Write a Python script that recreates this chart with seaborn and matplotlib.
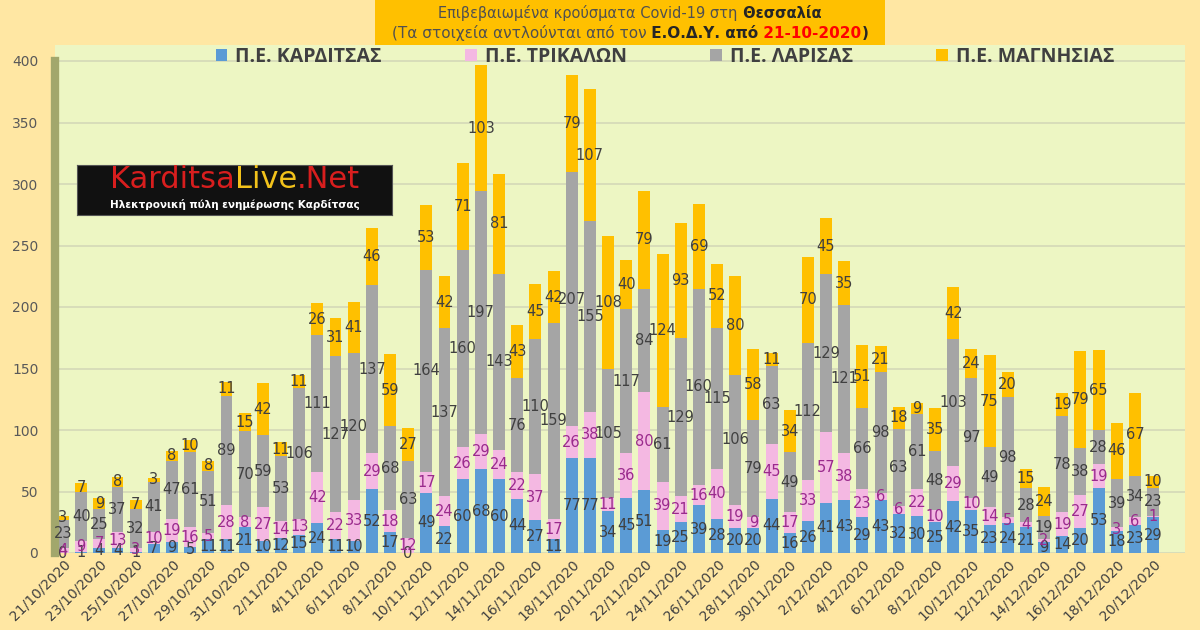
import numpy as np
import pandas as pd
import matplotlib
matplotlib.use("Agg")
import matplotlib.pyplot as plt
from matplotlib.patches import Patch, Rectangle
import seaborn as sns

# daily confirmed cases per regional unit, 21/10/2020 .. 20/12/2020
karditsa = [0, 1, 4, 4, 1, 7, 9, 5, 11, 11, 21, 10, 12, 15, 24, 11, 10, 52, 17, 0,
            49, 22, 60, 68, 60, 44, 27, 11, 77, 77, 34, 45, 51, 19, 25, 39, 28, 20, 20, 44,
            16, 26, 41, 43, 29, 43, 32, 30, 25, 42, 35, 23, 24, 21, 9, 14, 20, 53, 18, 23, 29]
trikala = [4, 9, 7, 13, 3, 10, 19, 16, 5, 28, 8, 27, 14, 13, 42, 22, 33, 29, 18, 12,
           17, 24, 26, 29, 24, 22, 37, 17, 26, 38, 11, 36, 80, 39, 21, 16, 40, 19, 9, 45,
           17, 33, 57, 38, 23, 6, 6, 22, 10, 29, 10, 14, 5, 4, 2, 19, 27, 19, 3, 6, 1]
larisa = [23, 40, 25, 37, 32, 41, 47, 61, 51, 89, 70, 59, 53, 106, 111, 127, 120, 137, 68, 63,
          164, 137, 160, 197, 143, 76, 110, 159, 207, 155, 105, 117, 84, 61, 129, 160, 115, 106, 79, 63,
          49, 112, 129, 121, 66, 98, 63, 61, 48, 103, 97, 49, 98, 28, 19, 78, 38, 28, 39, 34, 23]
magnisia = [3, 7, 9, 8, 7, 3, 8, 10, 8, 11, 15, 42, 11, 11, 26, 31, 41, 46, 59, 27,
            53, 42, 71, 103, 81, 43, 45, 42, 79, 107, 108, 40, 79, 124, 93, 69, 52, 80, 58, 11,
            34, 70, 45, 35, 51, 21, 18, 9, 35, 42, 24, 75, 20, 15, 24, 19, 79, 65, 46, 67, 10]

series_names = ["Π.Ε. ΚΑΡΔΙΤΣΑΣ", "Π.Ε. ΤΡΙΚΑΛΩΝ", "Π.Ε. ΛΑΡΙΣΑΣ", "Π.Ε. ΜΑΓΝΗΣΙΑΣ"]
colors = ["#5B9BD5", "#F4B8E2", "#A5A5A5", "#FFC000"]
label_colors = ["#404040", "#9A2A8C", "#404040", "#404040"]

dates = pd.date_range("2020-10-21", "2020-12-20")
date_labels = [f"{d.day}/{d.month}/{d.year}" for d in dates]

df = pd.DataFrame({"date": date_labels, "K": karditsa, "T": trikala,
                   "L": larisa, "M": magnisia})
cols = ["K", "T", "L", "M"]
cum = df[cols].cumsum(axis=1)

fig = plt.figure(figsize=(12, 6.3), dpi=100)
fig.patch.set_facecolor("#FFE7A3")
W, H = 1200, 630
ax = fig.add_axes([55 / W, 1 - 553 / H, 1130 / W, (553 - 45) / H])
ax.set_facecolor("#EDF6C3")

# stacked bars: draw cumulative totals from the top series down
for i in range(3, -1, -1):
    sns.barplot(x=df["date"], y=cum[cols[i]], color=colors[i], saturation=1,
                width=0.66, ax=ax, zorder=2)

ax.set_ylim(0, 400 * (553 - 45) / (553 - 61))
ax.set_xlim(-0.44, 61.76)
ax.set_yticks(range(0, 401, 50))
ax.yaxis.grid(True, color="#D4D9B8", linewidth=1.2, zorder=0)
ax.set_axisbelow(True)
ax.tick_params(axis="y", length=0, labelsize=10, labelcolor="#595959", pad=12)
ax.tick_params(axis="x", length=0, labelsize=10, labelcolor="#404040", pad=3)
ax.set_xticks(range(0, len(dates), 2))
ax.set_xticklabels(date_labels[::2], rotation=45, ha="right", rotation_mode="anchor")
ax.set_xlabel("")
ax.set_ylabel("")
for s in ["top", "right", "bottom"]:
    ax.spines[s].set_visible(False)
ax.spines["left"].set_color("#A2A76C")
ax.spines["left"].set_linewidth(6)
ax.spines["left"].set_bounds(0, 400)

# value labels in the middle of each segment
for i, c in enumerate(cols):
    bottoms = cum[c] - df[c]
    for x, (b, v) in enumerate(zip(bottoms, df[c])):
        ax.text(x, b + v / 2, str(v), ha="center", va="center", fontsize=10.5,
                color=label_colors[i], zorder=5)

# title box
fig.patches.append(Rectangle((375 / W, 1 - 45 / H), 510 / W, 45 / H,
                             transform=fig.transFigure, facecolor="#FFC000",
                             edgecolor="none", zorder=0))


def rich_line(y_px, pieces, fontsize, center_px=630, family="DejaVu Sans"):
    texts = []
    for s, weight, color in pieces:
        t = fig.text(0, 1 - y_px / H, s, fontsize=fontsize, fontweight=weight,
                     color=color, ha="left", va="center", family=family, zorder=10)
        texts.append(t)
    fig.canvas.draw()
    r = fig.canvas.get_renderer()
    widths = [t.get_window_extent(r).width for t in texts]
    x = center_px - sum(widths) / 2
    for t, w in zip(texts, widths):
        t.set_x(x / W)
        x += w


rich_line(13, [("Επιβεβαιωμένα κρούσματα Covid-19 στη", "normal", "#505050"),
               (" Θεσσαλία", "bold", "#262626")], 10.5)
rich_line(33, [("(Τα στοιχεία αντλούνται από τον", "normal", "#505050"),
               (" Ε.Ο.Δ.Υ. από", "bold", "#262626"),
               (" 21-10-2020", "bold", "#FF0000"),
               (")", "bold", "#262626")], 11)

# logo
logo = fig.add_axes([77 / W, 1 - 215 / H, 315 / W, 50 / H])
logo.set_facecolor("#111111")
logo.set_xticks([])
logo.set_yticks([])
for s in logo.spines.values():
    s.set_color("#555555")
rich_line(180, [("Karditsa", "normal", "#D81E1E"), ("Live", "normal", "#F2C21B"),
                (".Net", "normal", "#D81E1E")], 22, center_px=235)
logo.text(0.5, 0.2, "Ηλεκτρονική πύλη ενημέρωσης Καρδίτσας", color="white",
          fontsize=7.5, fontweight="bold", ha="center", va="center",
          transform=logo.transAxes)

handles = [Patch(facecolor=c, edgecolor="none") for c in colors]
fig.legend(handles, series_names, ncol=4, loc="center",
           bbox_to_anchor=(665 / W, 1 - 57 / H), frameon=False,
           prop={"family": ["Open Sans", "DejaVu Sans"], "weight": "bold", "size": 14},
           labelcolor="#404040", handlelength=0.6, handleheight=0.6,
           handletextpad=0.4, columnspacing=4.3)

fig.savefig("out.png", dpi=100, facecolor=fig.get_facecolor())
